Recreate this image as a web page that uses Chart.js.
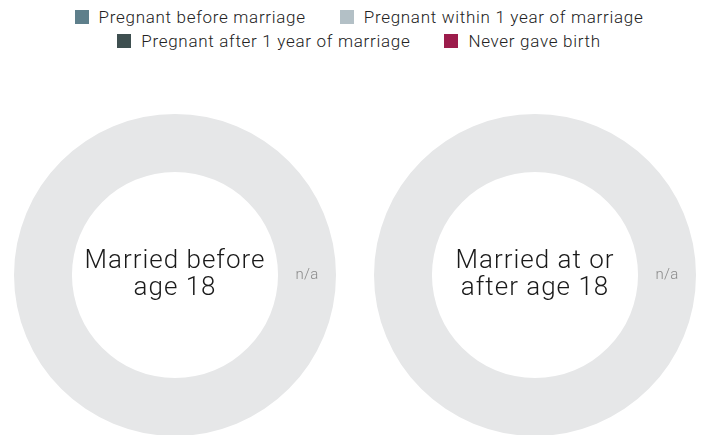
<!DOCTYPE html>
<html>
<head>
<meta charset="utf-8">
<script src="https://cdn.jsdelivr.net/npm/chart.js@4.4.1/dist/chart.umd.min.js"></script>
<style>
  html, body { margin: 0; padding: 0; background: #fff; }
  body { width: 702px; height: 435px; position: relative; overflow: hidden; font-family: Roboto, "Liberation Sans", sans-serif; }
  #legend { position: absolute; top: 5px; left: 16px; width: 686px; font-size: 17px; font-weight: 300; letter-spacing: 0.7px; color: #222; }
  .row { display: flex; justify-content: center; height: 24px; align-items: center; }
  .item { display: flex; align-items: center; margin: 0 17px; }
  .box { width: 14px; height: 14px; margin-right: 10px; }
  canvas { position: absolute; }
</style>
</head>
<body>
<div id="legend"></div>
<canvas id="c0" style="left:14px; top:114px;" width="322" height="322"></canvas>
<canvas id="c1" style="left:374px; top:114px;" width="322" height="322"></canvas>
<script>
const categories = ["Pregnant before marriage", "Pregnant within 1 year of marriage", "Pregnant after 1 year of marriage", "Never gave birth"];
const colors = ["#5e7f8b", "#b3c0c6", "#3e4f50", "#9c1c4b"];
const groups = ["Married before age 18", "Married at or after age 18"];
const centerLines = [["Married before", "age 18"], ["Married at or", "after age 18"]];
// no data available for either group
const beforeAge18 = [null, null, null, null];
const afterAge18 = [null, null, null, null];
const legendRows = [[0, 1], [2, 3]];

// legend
const legend = document.getElementById("legend");
legendRows.forEach(r => {
  const row = document.createElement("div");
  row.className = "row";
  r.forEach(i => {
    const item = document.createElement("div");
    item.className = "item";
    item.innerHTML = `<span class="box" style="background:${colors[i]}"></span><span>${categories[i]}</span>`;
    row.appendChild(item);
  });
  legend.appendChild(row);
});

const ringText = {
  id: "ringText",
  afterDraw(chart, args, opts) {
    const ctx = chart.ctx;
    const arc = chart.getDatasetMeta(0).data[0];
    if (!arc) return;
    ctx.save();
    ctx.textAlign = "center";
    ctx.textBaseline = "alphabetic";
    ctx.fillStyle = "#1a1a1a";
    ctx.font = "300 26px Roboto, 'Liberation Sans', sans-serif";
    ctx.letterSpacing = "1px";
    const lines = opts.lines;
    lines.forEach((l, i) => {
      ctx.fillText(l, arc.x, arc.y + (i - (lines.length - 1) / 2) * 27 + 6.5);
    });
    if (opts.empty) {
      const r = (arc.innerRadius + arc.outerRadius) / 2;
      ctx.letterSpacing = "0.3px";
      ctx.textBaseline = "middle";
      ctx.fillStyle = "#8a8a8a";
      ctx.font = "300 15px Roboto, 'Liberation Sans', sans-serif";
      ctx.fillText("n/a", arc.x + r, arc.y);
    }
    ctx.restore();
  }
};

[beforeAge18, afterAge18].forEach((vals, k) => {
  const empty = vals.every(v => v === null);
  new Chart(document.getElementById("c" + k).getContext("2d"), {
    type: "doughnut",
    data: {
      labels: empty ? ["n/a"] : categories,
      datasets: [{
        label: groups[k],
        data: empty ? [1] : vals,
        backgroundColor: empty ? ["#e6e7e8"] : colors,
        borderWidth: 0
      }]
    },
    options: {
      responsive: false,
      animation: false,
      cutout: "64%",
      layout: { padding: 0 },
      plugins: {
        legend: { display: false },
        tooltip: { enabled: false },
        ringText: { lines: centerLines[k], empty: empty }
      }
    },
    plugins: [ringText]
  });
});
</script>
</body>
</html>
